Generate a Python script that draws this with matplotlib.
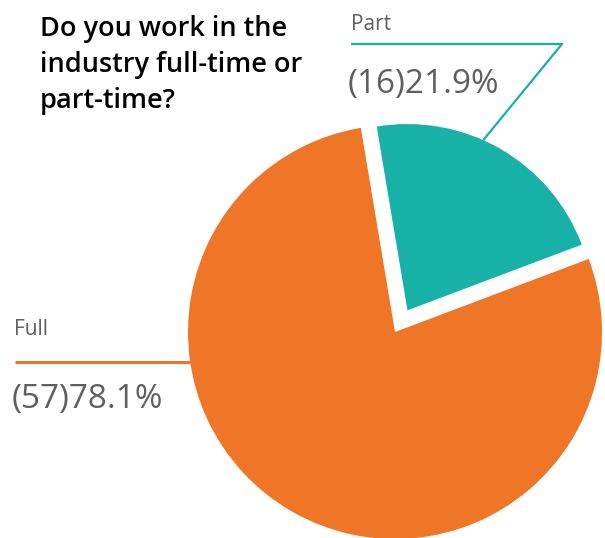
import numpy as np
import matplotlib.pyplot as plt

labels = ["Part", "Full"]
counts = [16, 57]
shares = [21.9, 78.1]
colors = ["#17b1a8", "#ee7626"]

W, H = 605, 538
fig = plt.figure(figsize=(W / 100, H / 100), dpi=100)
ax = fig.add_axes([0, 0, 1, 1])
ax.axis("off")

# pie laid out in pixel units, y measured upward
R = 207
wedges, _ = ax.pie(shares, colors=colors, startangle=99.5, counterclock=False,
                   explode=[25, 0], center=(395, H - 332), radius=R,
                   wedgeprops=dict(linewidth=0))
ax.set_xlim(0, W)
ax.set_ylim(0, H)
ax.set_aspect("equal")
# the pulled-out slice is drawn a bit smaller
wedges[0].set_radius(R * 0.9)

gray = "#5f5f5f"
txt = dict(family=["Open Sans", "DejaVu Sans"], color=gray)

# leader for Part
part = wedges[0]
a = np.deg2rad(66)
px = part.center[0] + part.r * np.cos(a)
py = part.center[1] + part.r * np.sin(a)
ax.plot([px, 562, 351], [py, H - 44, H - 44], color=colors[0], lw=1.6,
        solid_capstyle="butt")
ax.text(351, H - 30, labels[0], fontsize=15, ha="left", va="baseline", **txt)
ax.text(348, H - 93, f"({counts[0]}){shares[0]}%", fontsize=24, ha="left",
        va="baseline", **txt)

# leader for Full
full = wedges[1]
dy = 30
fx = full.center[0] - np.sqrt(full.r ** 2 - dy ** 2)
ax.plot([15, fx], [H - 362, H - 362], color=colors[1], lw=2.2,
        solid_capstyle="butt")
ax.text(14, H - 335, labels[1], fontsize=15, ha="left", va="baseline", **txt)
ax.text(12, H - 408, f"({counts[1]}){shares[1]}%", fontsize=24, ha="left",
        va="baseline", **txt)

ax.text(40, H - 15, "Do you work in the\nindustry full-time or\npart-time?",
        fontsize=19.5, ha="left", va="top", linespacing=1.38, color="black",
        family=["Open Sans", "DejaVu Sans"], fontweight="semibold")

fig.savefig("out.png", dpi=100)
